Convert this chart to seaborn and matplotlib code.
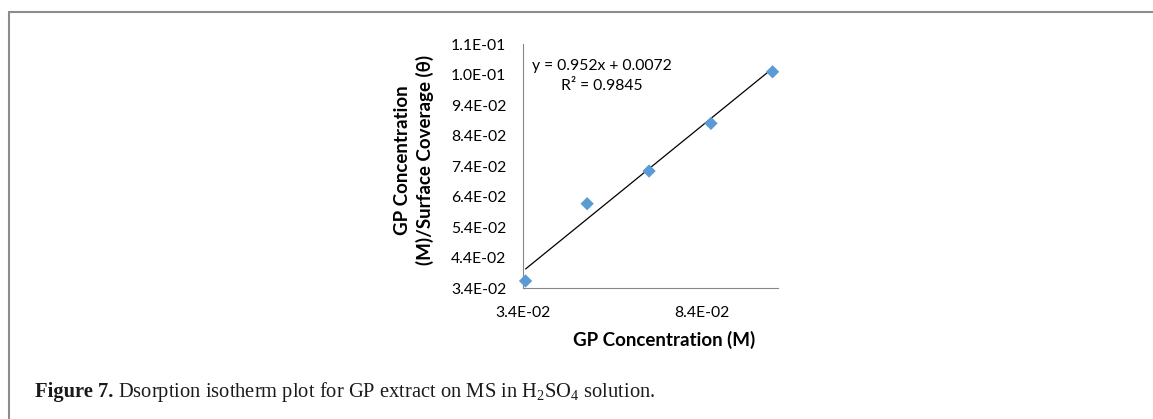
import numpy as np
import pandas as pd
import seaborn as sns
import matplotlib.pyplot as plt
from matplotlib.lines import Line2D

# ---- data ----
gp_conc = [0.0348, 0.0520, 0.0693, 0.0866, 0.1038]          # GP concentration (M)
c_over_theta = [0.0364, 0.0617, 0.0724, 0.0880, 0.1049]     # C / theta
slope = 0.952
intercept = 0.0072
r_squared = 0.9845

x_ticks = [0.034, 0.084]
x_tick_labels = ["3.4E-02", "8.4E-02"]
y_ticks = [0.034, 0.044, 0.054, 0.064, 0.074, 0.084, 0.094, 0.104, 0.114]
y_tick_labels = ["3.4E-02", "4.4E-02", "5.4E-02", "6.4E-02", "7.4E-02",
                 "8.4E-02", "9.4E-02", "1.0E-01", "1.1E-01"]

x_label = "GP Concentration (M)"
y_label = "GP Concentration\n(M)/Surface Coverage (θ)"
caption_bold = "Figure 7."
caption_rest = "Dsorption isotherm plot for GP extract on MS in $\\mathregular{H_2SO_4}$ solution."

# ---- style ----
sns.set_theme(style="white")
plt.rcParams['font.family'] = ['Lato', 'DejaVu Sans']

W, H = 1153, 419
fig = plt.figure(figsize=(W / 100, H / 100), dpi=100)
ax = fig.add_axes([522.7 / W, 1 - 288.3 / H, (778.3 - 522.7) / W, (288.3 - 44) / H])

df = pd.DataFrame({"x": gp_conc, "y": c_over_theta})
sns.scatterplot(data=df, x="x", y="y", marker="D", s=46, color="#5B9BD5",
                edgecolor="none", linewidth=0, ax=ax, zorder=3, clip_on=False)

trend_x = np.array([min(gp_conc), max(gp_conc)])
trend = pd.DataFrame({"x": trend_x, "y": slope * trend_x + intercept})
sns.lineplot(data=trend, x="x", y="y", color="black", linewidth=0.9, ax=ax, zorder=2)

ax.set_xlim(0.034, 0.1054)
ax.set_ylim(0.034, 0.114)
ax.set_xticks(x_ticks, x_tick_labels)
ax.set_yticks(y_ticks, y_tick_labels)

for s in ["top", "right"]:
    ax.spines[s].set_visible(False)
for s in ["left", "bottom"]:
    ax.spines[s].set_color("#868686")
    ax.spines[s].set_linewidth(0.8)

ax.tick_params(axis="both", direction="out", color="#868686", width=0.8,
               labelsize=11.3, labelcolor="black")
ax.tick_params(axis="y", length=3.8, pad=8)
ax.tick_params(axis="x", length=3, pad=10)

ax.set_xlabel(x_label, fontsize=13.5, fontweight="bold", color="black")
ax.xaxis.set_label_coords((664 - 522.7) / 255.6, (288.3 - 340) / 244.3)
ax.xaxis.label.set_va("center")

ax.set_ylabel(y_label, fontsize=13.5, fontweight="bold", color="black",
              multialignment="center", linespacing=1.3)
ax.yaxis.set_label_coords((414 - 522.7) / 255.6, (288.3 - 160) / 244.3)
ax.yaxis.label.set_va("center")

ax.text((602.3 - 522.7) / 255.6, (288.3 - 76.2) / 244.3,
        f"y = {slope}x + {intercept}\nR² = {r_squared}",
        transform=ax.transAxes, ha="center", va="center", fontsize=11.3,
        multialignment="center", linespacing=1.55, color="black")

# ---- caption ----
t1 = fig.text(35 / W, 1 - 397 / H, caption_bold, fontfamily=["Liberation Serif", "DejaVu Serif"],
              fontweight="bold", fontsize=14.8, va="baseline", ha="left", color="#1a1a1a")
renderer = fig.canvas.get_renderer()
bb = t1.get_window_extent(renderer=renderer)
fig.text((bb.x1 + 5) / W, 1 - 397 / H, caption_rest,
         fontfamily=["Liberation Serif", "DejaVu Serif"], fontsize=14.8,
         va="baseline", ha="left", color="#1a1a1a")

# ---- frame lines (top and left) ----
fig.add_artist(Line2D([8.7 / W, 1], [1 - 12 / H, 1 - 12 / H], transform=fig.transFigure,
                      color="#8c8c8c", linewidth=1.5))
fig.add_artist(Line2D([8.7 / W, 8.7 / W], [0, 1 - 12 / H], transform=fig.transFigure,
                      color="#8c8c8c", linewidth=1.5))

fig.savefig("out.png", dpi=100)
